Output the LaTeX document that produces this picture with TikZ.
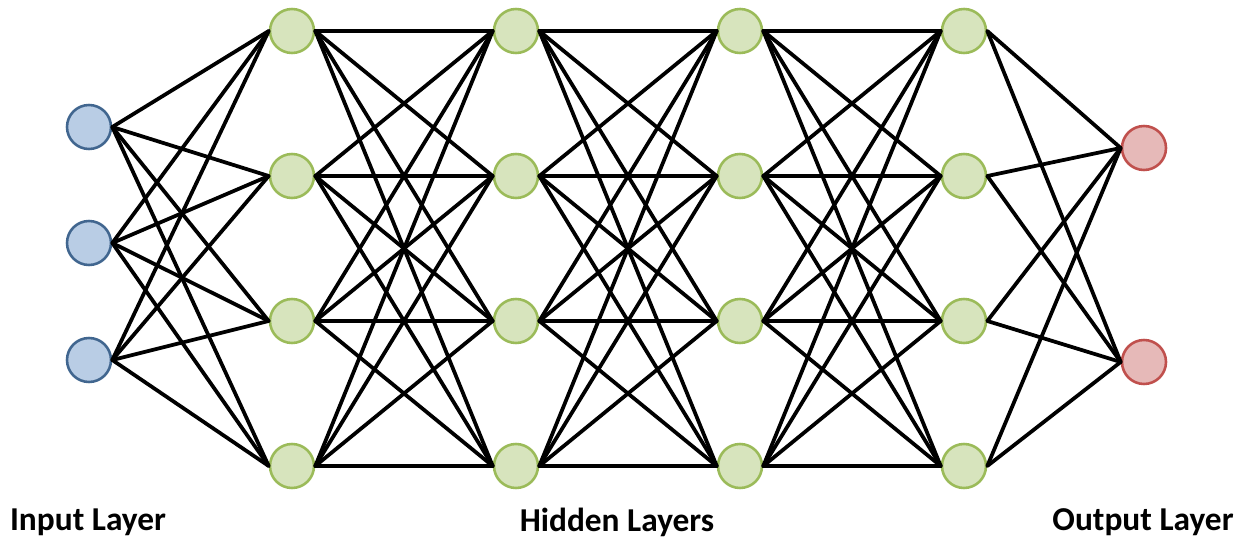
\documentclass[tikz,border=0pt]{standalone}
\usepackage{fontspec}
\setmainfont{Carlito}
\definecolor{infill}{HTML}{B9CDE5}
\definecolor{indraw}{HTML}{41668F}
\definecolor{hidfill}{HTML}{D7E4BD}
\definecolor{hiddraw}{HTML}{9BBB59}
\definecolor{outfill}{HTML}{E6B9B8}
\definecolor{outdraw}{HTML}{C0504D}
\tikzset{
  neuron/.style={circle,minimum size=1.32cm,inner sep=0pt,line width=2.2pt},
  inneuron/.style={neuron,fill=infill,draw=indraw},
  hidneuron/.style={neuron,fill=hidfill,draw=hiddraw},
  outneuron/.style={neuron,fill=outfill,draw=outdraw},
  link/.style={line width=3.2pt,black},
  layername/.style={font=\bfseries\fontsize{28.5}{32}\selectfont}
}
\begin{document}
\begin{tikzpicture}[x=0.03cm,y=-0.03cm,line join=round,line cap=round]
\useasboundingbox (0,0) rectangle (1246,541);
% input layer
\foreach \i/\y in {1/127,2/243,3/360}
  \node[inneuron] (I\i) at (89,\y) {};
% hidden layers
\foreach \l/\x in {1/292,2/516,3/740,4/964}
  \foreach \k/\y in {1/31,2/176,3/321,4/466}
    \node[hidneuron] (H\l\k) at (\x,\y) {};
% output layer
\foreach \o/\y in {1/148,2/362}
  \node[outneuron] (O\o) at (1144,\y) {};
% links
\foreach \i in {1,2,3}
  \foreach \k in {1,...,4}
    \draw[link] (I\i.east) -- (H1\k.west);
\foreach \l/\m in {1/2,2/3,3/4}
  \foreach \j in {1,...,4}
    \foreach \k in {1,...,4}
      \draw[link] (H\l\j.east) -- (H\m\k.west);
\foreach \j in {1,...,4}
  \foreach \o in {1,2}
    \draw[link] (H4\j.east) -- (O\o.west);
% labels
\node[layername] (inlabel) at (88,522) {Input Layer};
\node[layername] (hidlabel) at (617,522) {Hidden Layers};
\node[layername] (outlabel) at (1143,522) {Output Layer};
\end{tikzpicture}
\end{document}
